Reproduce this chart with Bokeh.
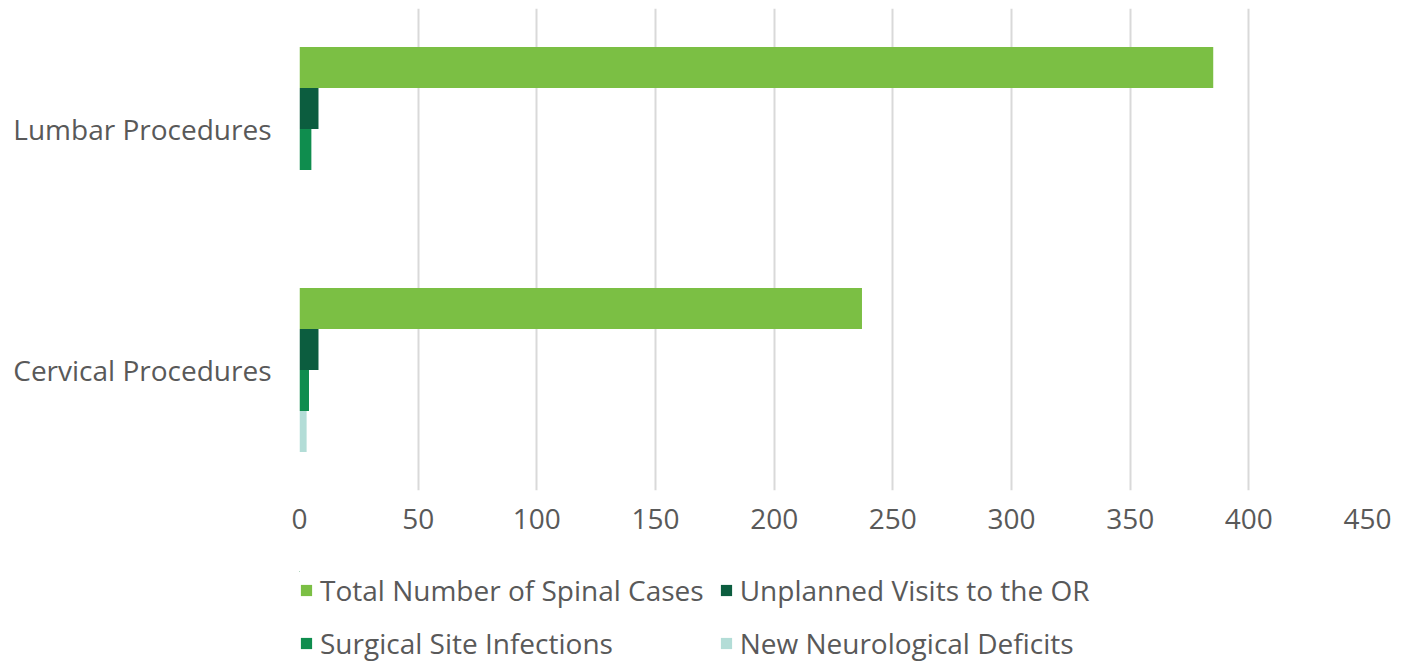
from bokeh.plotting import figure
from bokeh.layouts import column
from bokeh.models import ColumnDataSource, FactorRange, Range1d, Legend, LegendItem, FixedTicker
from bokeh.transform import dodge
from bokeh.embed import file_html
from bokeh.resources import INLINE

categories = ["Cervical Procedures", "Lumbar Procedures"]
total_cases = [237, 385]
unplanned_or = [8, 8]
ssi = [4, 5]
neuro_deficits = [3, 0]
series_names = ["Total Number of Spinal Cases", "Unplanned Visits to the OR",
                "Surgical Site Infections", "New Neurological Deficits"]
x_ticks = [0, 50, 100, 150, 200, 250, 300, 350, 400, 450]

colors = ["#7BBF44", "#0C5D3F", "#0F8D4E", "#B3DDD7"]
offsets = [0.255, 0.085, -0.085, -0.255]
FONT = "Open Sans"
TXT = "#595959"
FS = "28px"

src = ColumnDataSource(dict(cat=categories, total=total_cases, unpl=unplanned_or,
                            ssi=ssi, neuro=neuro_deficits))
cols = ["total", "unpl", "ssi", "neuro"]

p = figure(frame_width=1068, frame_height=482, y_range=FactorRange(*categories, range_padding=0),
           x_range=Range1d(0, 450), output_backend="svg", toolbar_location=None,
           min_border_left=299, min_border_right=43, min_border_top=8, min_border_bottom=81)
p.outline_line_color = None
p.background_fill_color = "white"

for col, off, c in zip(cols, offsets, colors):
    p.hbar(y=dodge("cat", off, range=p.y_range), right=col, left=0, height=0.17,
           source=src, fill_color=c, line_color=None)

p.xgrid.grid_line_color = "#D9D9D9"
p.xgrid.grid_line_width = 2
p.ygrid.grid_line_color = None
p.xaxis.ticker = FixedTicker(ticks=x_ticks)

for ax in (p.xaxis[0], p.yaxis[0]):
    ax.axis_line_color = None
    ax.major_tick_line_color = None
    ax.minor_tick_line_color = None
    ax.major_label_text_font = FONT
    ax.major_label_text_font_size = FS
    ax.major_label_text_color = TXT
    ax.major_tick_out = 0
    ax.major_tick_in = 0
p.xaxis.major_label_standoff = 18
p.yaxis.major_label_standoff = 28

# legend panel (same series, drawn entirely outside this panel's visible ranges)
lg = figure(width=1410, height=91, x_range=Range1d(1000, 1001), y_range=Range1d(0, 1),
            output_backend="svg", toolbar_location=None,
            min_border_left=294, min_border_right=0, min_border_top=0, min_border_bottom=0)
lg.axis.visible = False
lg.grid.grid_line_color = None
lg.outline_line_color = None
swatches = []
for col, c in zip(cols, colors):
    swatches.append(lg.hbar(y="total", right=col, left=0, height=0.17, source=src,
                            fill_color=c, line_color=None))

items = [LegendItem(label=n, renderers=[r]) for n, r in zip(series_names, swatches)]
legend = Legend(items=items, orientation="horizontal", ncols=2, location="top_left",
                label_text_font=FONT, label_text_font_size=FS, label_text_color=TXT,
                glyph_width=14, glyph_height=14, label_standoff=7, spacing=15,
                padding=0, margin=0, border_line_color=None, background_fill_alpha=0,
                label_height=38)
lg.add_layout(legend, "center")

open("out.html", "w").write(file_html(column(p, lg, spacing=0), INLINE))
